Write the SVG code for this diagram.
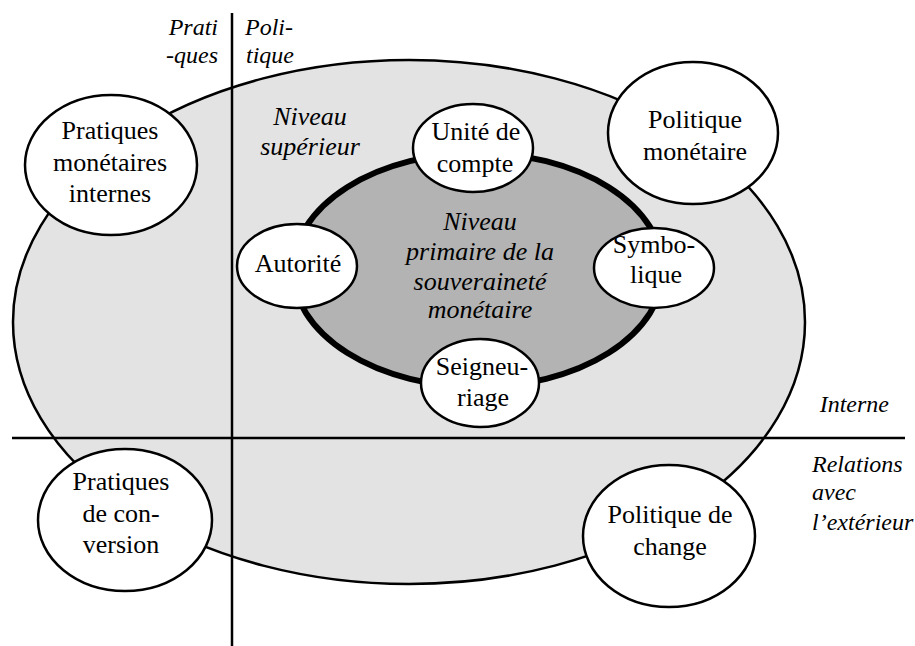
<svg xmlns="http://www.w3.org/2000/svg" width="915" height="646" viewBox="0 0 915 646">
<rect width="915" height="646" fill="#fff"/>
<g id="outer-level">
<ellipse cx="409" cy="322" rx="396" ry="262" fill="#e3e3e3" stroke="#000" stroke-width="2.5"/>
</g>
<g id="inner-level">
<ellipse cx="478" cy="270" rx="185" ry="117" fill="#b3b3b3" stroke="#000" stroke-width="6"/>
<text font-family="Liberation Serif" font-size="26" font-style="italic" text-anchor="middle" x="480" y="230">Niveau</text>
<text font-family="Liberation Serif" font-size="26" font-style="italic" text-anchor="middle" x="480" y="260">primaire de la</text>
<text font-family="Liberation Serif" font-size="26" font-style="italic" text-anchor="middle" x="480" y="290">souveraineté</text>
<text font-family="Liberation Serif" font-size="26" font-style="italic" text-anchor="middle" x="480" y="318">monétaire</text>
</g>
<g id="connectors" stroke="#000" stroke-width="2.5" fill="none">
<line x1="232" y1="13" x2="232" y2="646"/>
<line x1="12" y1="438" x2="905" y2="438"/>
</g>
<g id="labels">
<text font-family="Liberation Serif" font-size="24" font-style="italic" text-anchor="end" x="218" y="35">Prati</text>
<text font-family="Liberation Serif" font-size="24" font-style="italic" text-anchor="end" x="218" y="63">-ques</text>
<text font-family="Liberation Serif" font-size="24" font-style="italic" x="245" y="35">Poli-</text>
<text font-family="Liberation Serif" font-size="24" font-style="italic" x="246" y="63">tique</text>
<text font-family="Liberation Serif" font-size="24" font-style="italic" text-anchor="end" x="889" y="412">Interne</text>
<text font-family="Liberation Serif" font-size="24" font-style="italic" x="812" y="472">Relations</text>
<text font-family="Liberation Serif" font-size="24" font-style="italic" x="812" y="500">avec</text>
<text font-family="Liberation Serif" font-size="24" font-style="italic" x="812" y="530">l’extérieur</text>
<text font-family="Liberation Serif" font-size="26" font-style="italic" text-anchor="middle" x="310" y="125">Niveau</text>
<text font-family="Liberation Serif" font-size="26" font-style="italic" text-anchor="middle" x="310" y="155">supérieur</text>
</g>
<g id="node-pratiques-internes">
<ellipse cx="111" cy="165" rx="86" ry="70" fill="#fff" stroke="#000" stroke-width="2.5"/>
<text font-family="Liberation Serif" font-size="26" text-anchor="middle" x="110" y="139">Pratiques</text>
<text font-family="Liberation Serif" font-size="26" text-anchor="middle" x="110" y="171">monétaires</text>
<text font-family="Liberation Serif" font-size="26" text-anchor="middle" x="110" y="202">internes</text>
</g>
<g id="node-politique-monetaire">
<ellipse cx="693" cy="133" rx="85" ry="71" fill="#fff" stroke="#000" stroke-width="2.5"/>
<text font-family="Liberation Serif" font-size="26" text-anchor="middle" x="695" y="128">Politique</text>
<text font-family="Liberation Serif" font-size="26" text-anchor="middle" x="695" y="160">monétaire</text>
</g>
<g id="node-unite-compte">
<ellipse cx="473" cy="148" rx="60" ry="44" fill="#fff" stroke="#000" stroke-width="2.5"/>
<text font-family="Liberation Serif" font-size="26" text-anchor="middle" x="476" y="140">Unité de</text>
<text font-family="Liberation Serif" font-size="26" text-anchor="middle" x="475" y="172">compte</text>
</g>
<g id="node-autorite">
<ellipse cx="297" cy="266" rx="60" ry="42" fill="#fff" stroke="#000" stroke-width="2.5"/>
<text font-family="Liberation Serif" font-size="26" text-anchor="middle" x="298" y="272">Autorité</text>
</g>
<g id="node-symbolique">
<ellipse cx="654" cy="268" rx="60" ry="40" fill="#fff" stroke="#000" stroke-width="2.5"/>
<text font-family="Liberation Serif" font-size="26" text-anchor="middle" x="654" y="253">Symbo-</text>
<text font-family="Liberation Serif" font-size="26" text-anchor="middle" x="656" y="283">lique</text>
</g>
<g id="node-seigneuriage">
<ellipse cx="480" cy="383" rx="59" ry="44" fill="#fff" stroke="#000" stroke-width="2.5"/>
<text font-family="Liberation Serif" font-size="26" text-anchor="middle" x="482" y="375">Seigneu-</text>
<text font-family="Liberation Serif" font-size="26" text-anchor="middle" x="483" y="406">riage</text>
</g>
<g id="node-pratiques-conversion">
<ellipse cx="125" cy="520" rx="87" ry="71" fill="#fff" stroke="#000" stroke-width="2.5"/>
<text font-family="Liberation Serif" font-size="26" text-anchor="middle" x="121" y="490">Pratiques</text>
<text font-family="Liberation Serif" font-size="26" text-anchor="middle" x="121" y="522">de con-</text>
<text font-family="Liberation Serif" font-size="26" text-anchor="middle" x="121" y="553">version</text>
</g>
<g id="node-politique-change">
<ellipse cx="669" cy="536" rx="86" ry="71" fill="#fff" stroke="#000" stroke-width="2.5"/>
<text font-family="Liberation Serif" font-size="26" text-anchor="middle" x="670" y="523">Politique de</text>
<text font-family="Liberation Serif" font-size="26" text-anchor="middle" x="670" y="555">change</text>
</g>
</svg>
